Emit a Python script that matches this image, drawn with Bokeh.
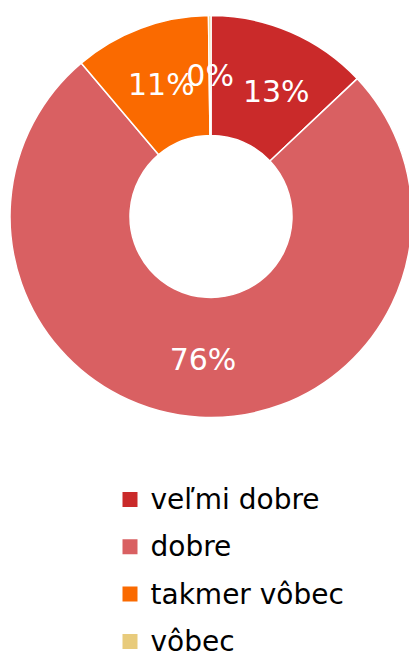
import math
from bokeh.plotting import figure
from bokeh.models import Range1d, ColumnDataSource
from bokeh.core.properties import value
from bokeh.embed import file_html
from bokeh.resources import INLINE

categories = ["veľmi dobre", "dobre", "takmer vôbec", "vôbec"]
values = [13, 76, 11, 0.2]
colors = ["#CA2A2A", "#D96062", "#FA6A00", "#E8CB7C"]
label_nudge_deg = [4, 0, 0, 0]

W, H = 409, 659
FONT = "DejaVu Sans"

p = figure(width=W, height=H, output_backend="svg", toolbar_location=None,
           x_range=Range1d(0, W), y_range=Range1d(0, H),
           x_axis_type=None, y_axis_type=None, min_border=0)
p.outline_line_color = None
p.grid.visible = False

def py(y_page):
    return H - y_page

cx, cy = 210.5, py(216)
r_out, r_in = 201, 81

total = sum(values)
starts, ends, lx, ly, texts = [], [], [], [], []
cum = 0.0
for v, nudge in zip(values, label_nudge_deg):
    a0 = cum / total * 360
    cum += v
    a1 = cum / total * 360
    starts.append(math.radians(90 - a0))
    ends.append(math.radians(90 - a1))
    mid = math.radians((a0 + a1) / 2 + nudge)
    lr = 142
    lx.append(cx + lr * math.sin(mid))
    ly.append(cy + lr * math.cos(mid) - 1)
    texts.append(f"{round(v / total * 100)}%")

src = ColumnDataSource(dict(start=starts, end=ends, color=colors,
                            lx=lx, ly=ly, text=texts))
p.annular_wedge(x=cx, y=cy, inner_radius=r_in, outer_radius=r_out,
                start_angle="start", end_angle="end", direction="clock",
                fill_color="color", line_color="white", line_width=1.5,
                source=src)
p.text(x="lx", y="ly", text="text", source=src, text_color="white",
       text_font=value(FONT), text_font_size="30px",
       text_align="center", text_baseline="middle")

# legend
leg_y0, leg_dy = 499, 47.3
sq_x, txt_x = 129.5, 150
ly_leg = [py(leg_y0 + i * leg_dy) for i in range(len(categories))]
lsrc = ColumnDataSource(dict(y=ly_leg, color=colors, text=categories))
p.scatter(x=sq_x, y="y", marker="square", size=15, fill_color="color",
          line_color=None, source=lsrc)
p.text(x=txt_x, y="y", text="text", source=lsrc, text_color="#000000",
       text_font=value(FONT), text_font_size="28px",
       text_align="left", text_baseline="middle")

open("out.html", "w").write(file_html(p, INLINE))
